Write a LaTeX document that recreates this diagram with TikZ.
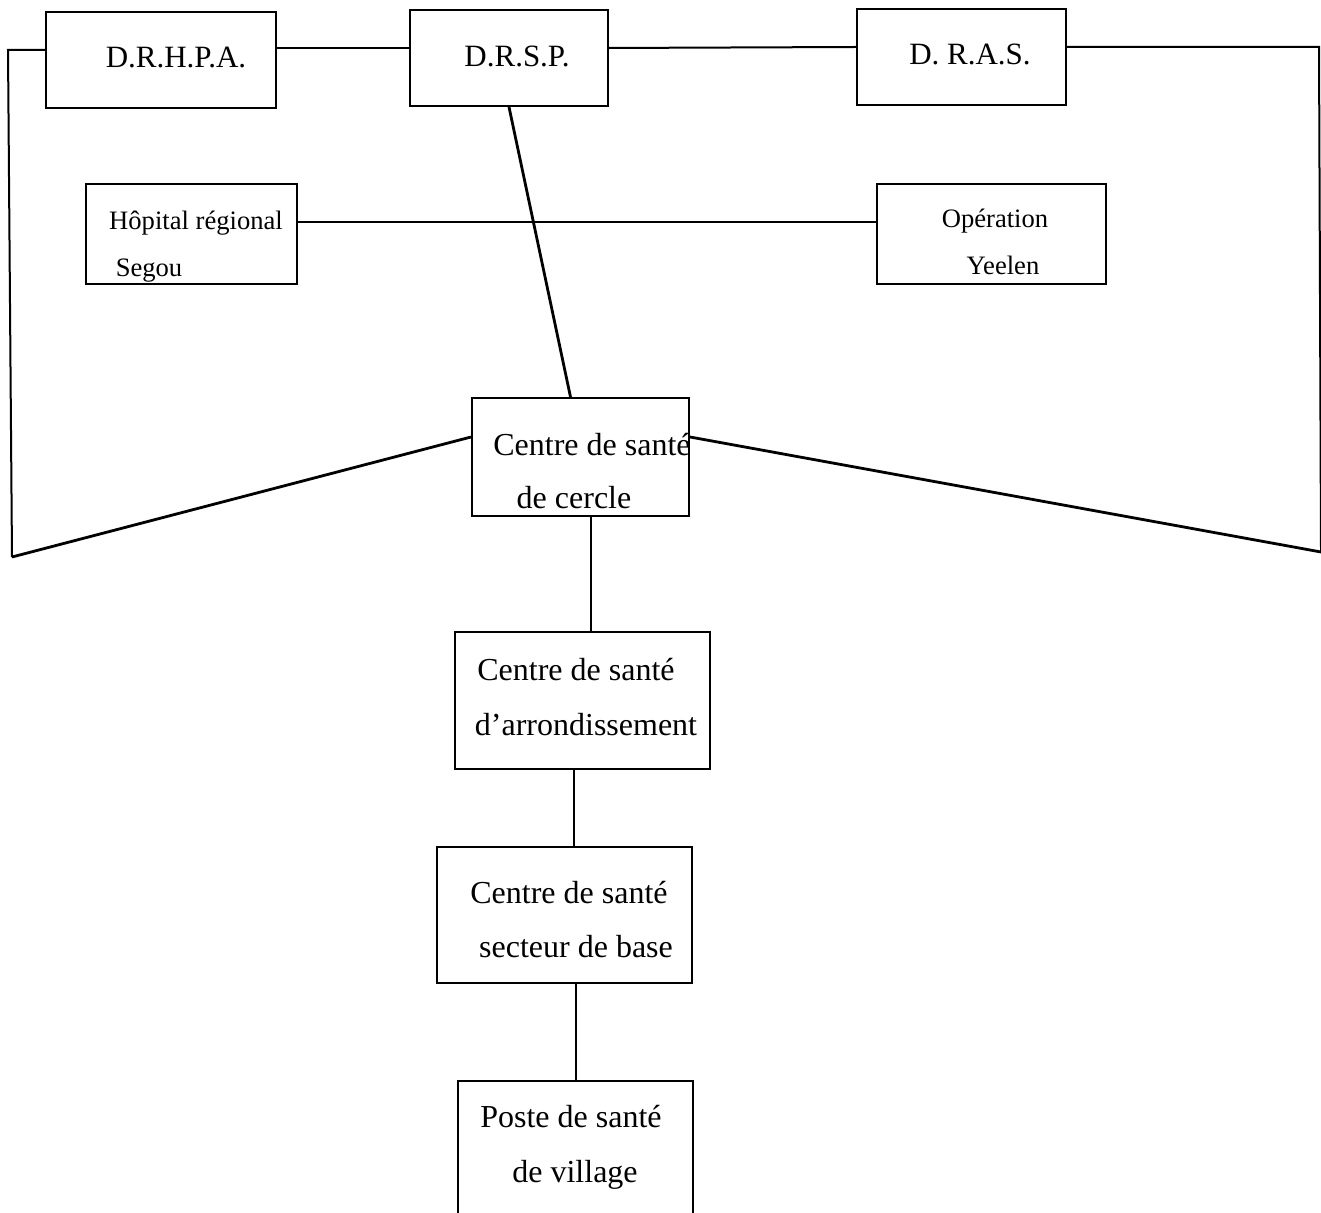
\documentclass[tikz,border=0pt]{standalone}
\usepackage{fontspec}
\setmainfont{Liberation Serif}
\tikzset{
  box/.style={draw,line width=1pt,inner sep=0pt},
  link/.style={line width=1pt},
  slant/.style={line width=1.4pt},
  txt/.style={anchor=base,inner sep=0pt},
  big/.style={font=\fontsize{15.5}{18}\selectfont},
  small/.style={font=\fontsize{13.3}{16}\selectfont},
  low/.style={font=\fontsize{16}{19}\selectfont}
}
\begin{document}
\begin{tikzpicture}[x=0.5pt,y=-0.5pt]
\useasboundingbox (0,0) rectangle (1321,1213);
\clip (0,0) rectangle (1321,1213);
% boxes
\node[box,minimum width=115pt,minimum height=48pt] (drhpa) at (161,60) {};
\node[box,minimum width=99pt,minimum height=48pt] (drsp) at (509,58) {};
\node[box,minimum width=104.5pt,minimum height=48pt] (dras) at (961.5,57) {};
\node[box,minimum width=105.5pt,minimum height=50pt] (hopital) at (191.5,234) {};
\node[box,minimum width=114.5pt,minimum height=50pt] (yeelen) at (991.5,234) {};
\node[box,minimum width=108.5pt,minimum height=59pt] (cercle) at (580.5,457) {};
\node[box,minimum width=127.5pt,minimum height=68.5pt] (arrond) at (582.5,700.5) {};
\node[box,minimum width=127.5pt,minimum height=68pt] (secteur) at (564.5,915) {};
\node[box,minimum width=117.5pt,minimum height=89.5pt] (poste) at (575.5,1170.5) {};
% texts
\foreach \x/\y/\t [count=\i] in {176/68/D.R.H.P.A., 517/67/D.R.S.P., 970/65/D. R.A.S.}
  \node[txt,big] (top\i) at (\x,\y) {\t};
\foreach \x/\y/\t [count=\i] in {196/230/Hôpital régional, 149/277/Segou,
    995/228/Opération, 1003/275/Yeelen}
  \node[txt,small] (mid\i) at (\x,\y) {\t};
\foreach \x/\y/\t [count=\i] in {592/456/Centre de santé, 574/509/de cercle,
    576/680/Centre de santé, 586/735/d’arrondissement,
    569/903/Centre de santé, 576/957/secteur de base,
    571/1127/Poste de santé, 575/1182/de village}
  \node[txt,low] (low\i) at (\x,\y) {\t};
% frame
\coordinate (tl) at (8,50);
\coordinate (bl) at (12,557);
\coordinate (tr) at (1319,47);
\coordinate (br) at (1321,552);
\draw[link] ([yshift=5pt]drhpa.west) -- (tl) -- (bl);
\draw[slant] (bl) -- ([yshift=10pt]cercle.west);
\draw[link] ([yshift=5pt]dras.east) -- (tr) -- (br);
\draw[slant] (br) -- ([yshift=10pt]cercle.east);
% links
\draw[link] ([yshift=6pt]drhpa.east) -- ([yshift=5pt]drsp.west);
\draw[link] ([yshift=5pt]drsp.east) -- ([yshift=5pt]dras.west);
\draw[link] ([yshift=6pt]hopital.east) -- ([yshift=6pt]yeelen.west);
\draw[slant] (drsp.south) -- ([xshift=-5pt]cercle.north);
\draw[link] ([xshift=5.25pt]cercle.south) -- ([xshift=5.25pt]cercle.south |- arrond.north);
\draw[link] ([xshift=-4.25pt]arrond.south) -- ([xshift=-4.25pt]arrond.south |- secteur.north);
\draw[link] (poste.north |- secteur.south) -- (poste.north);
\end{tikzpicture}
\end{document}
